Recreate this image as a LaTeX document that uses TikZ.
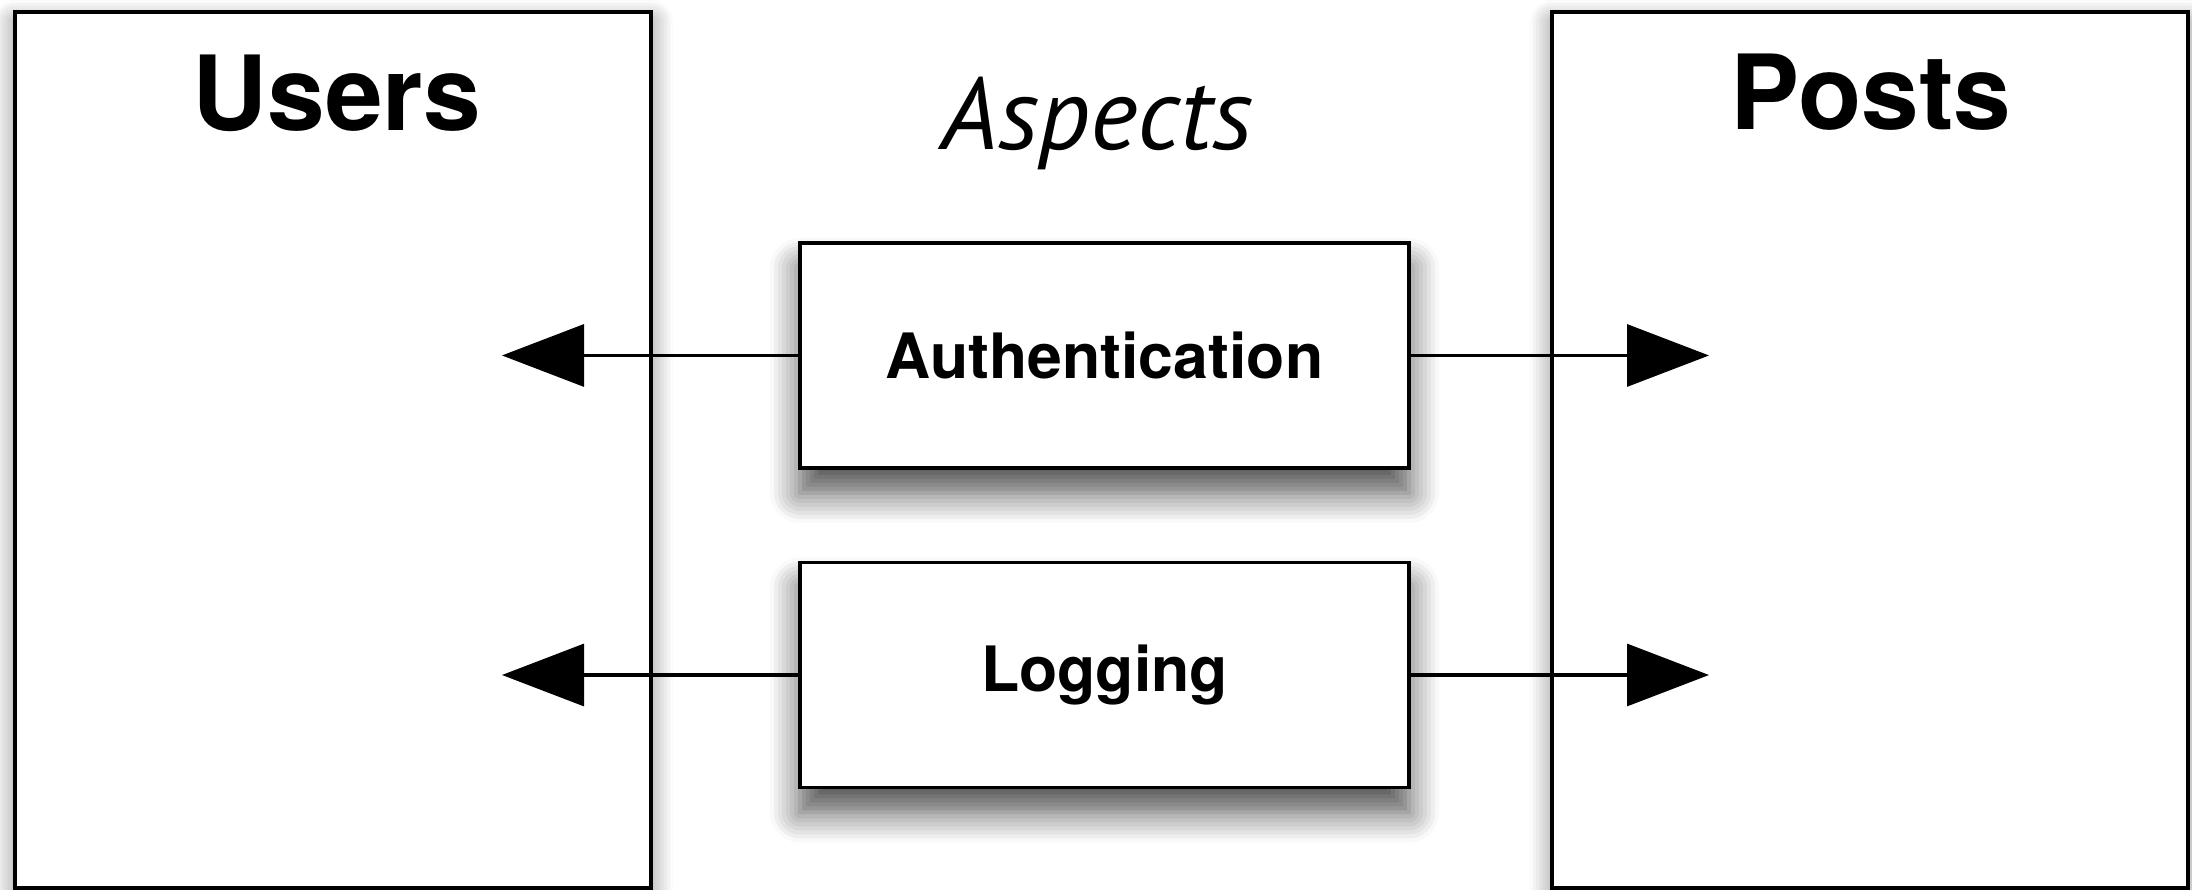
\documentclass[tikz,border=0pt]{standalone}
\usepackage{fontspec}
\setmainfont{TeX Gyre Heros}
\newfontfamily\aspectsfont{PT Sans}
\usetikzlibrary{arrows.meta,shadows.blur}

\begin{document}
\begin{tikzpicture}[
    panel/.style={draw, line width=1.1pt, fill=white, inner sep=0pt,
        blur shadow={shadow xshift=0cm, shadow yshift=-0.1cm,
            shadow blur radius=0.22cm, shadow blur steps=8, shadow opacity=50}},
    aspectbox/.style={draw, line width=1.1pt, fill=white, inner sep=0pt,
        minimum width=6.09cm, minimum height=2.25cm,
        font=\fontsize{17.8}{20}\selectfont\bfseries,
        blur shadow={shadow xshift=0cm, shadow yshift=-0.25cm,
            shadow blur radius=0.3cm, shadow blur steps=8, shadow opacity=70}},
    title/.style={anchor=base, font=\fontsize{29.5}{32}\selectfont\bfseries},
    flow/.style={-{Triangle[length=8.2mm,width=6.2mm]}, line width=0.9pt}]
    \useasboundingbox (0,0) rectangle (21.92,8.90);

    % Coordinates of the arrow tips
    \coordinate (authuser) at (5.02,5.345);
    \coordinate (authpost) at (17.09,5.345);
    \coordinate (loguser) at (5.02,2.15);
    \coordinate (logpost) at (17.09,2.15);

    % The two panels
    \node[panel, minimum width=6.36cm, minimum height=8.76cm] (users) at (3.33,4.40) {};
    \node[panel, minimum width=6.36cm, minimum height=8.76cm] (posts) at (18.70,4.40) {};
    \node[title] (userstitle) at (3.37,7.59) {Users};
    \node[title] (poststitle) at (18.71,7.60) {Posts};

    % The aspects
    \node[anchor=base, font=\fontsize{29}{32}\selectfont\aspectsfont\itshape] (aspects) at (10.97,7.40) {Aspects};
    \node[aspectbox] (auth) at (11.045,5.345) {Authentication};
    \node[aspectbox] (logging) at (11.045,2.15) {Logging};

    % The arrows
    \draw[flow] (auth.west) -- (authuser);
    \draw[flow] (auth.east) -- (authpost);
    \draw[flow] (logging.west) -- (loguser);
    \draw[flow] (logging.east) -- (logpost);
\end{tikzpicture}
\end{document}
